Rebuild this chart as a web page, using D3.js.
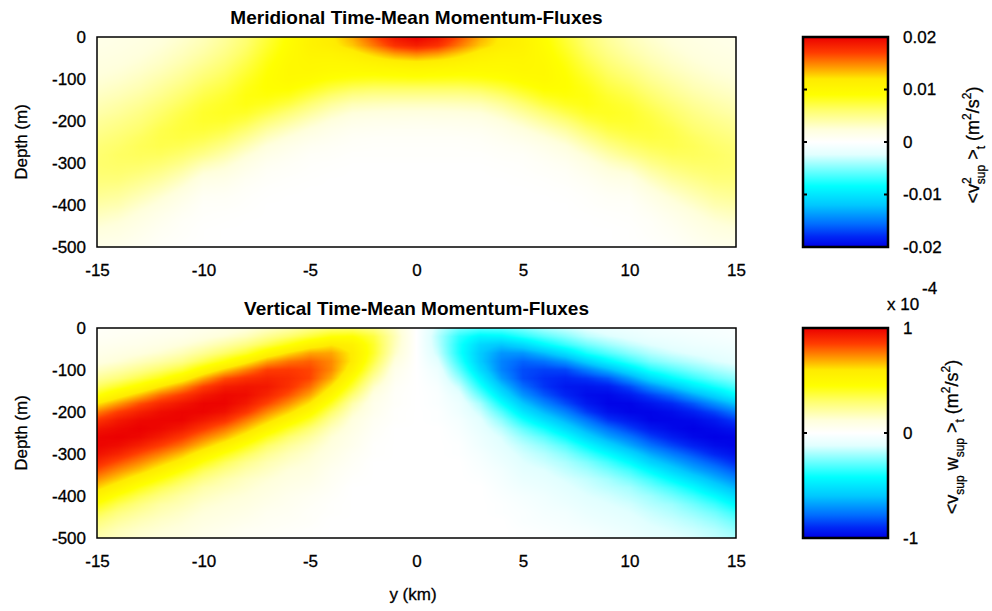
<!DOCTYPE html>
<html>
<head>
<meta charset="utf-8">
<script src="https://cdn.jsdelivr.net/npm/d3@7"></script>
<style>
  body { margin: 0; background: #fff; }
  svg { display: block; }
  text { font-family: "Liberation Sans", Arial, Helvetica, sans-serif; fill: #000; }
  .lbl { stroke: #000; stroke-width: 0.3px; }
</style>
</head>
<body>
<svg id="chart" width="992" height="611"></svg>
<script>
// ---------------- DATA ----------------
const yKm = [-15,-14,-13,-12,-11,-10,-9,-8,-7,-6,-5,-4,-3,-2,-1,0,1,2,3,4,5,6,7,8,9,10,11,12,13,14,15];
const depthM = [0,-20,-40,-60,-80,-100,-120,-140,-160,-180,-200,-220,-240,-260,-280,-300,-320,-340,-360,-380,-400,-420,-440,-460,-480,-500];
const xTickValues = [-15,-10,-5,0,5,10,15];
const depthTickValues = [0,-100,-200,-300,-400,-500];
const meridionalTicks = [-0.02,-0.01,0,0.01,0.02];
const verticalTicks = [-1,0,1];          // in units of 10^-4
const meridionalMax = 0.02;
const verticalMax = 1e-4;

// <v^2>_t : one column per yKm entry, one value per depthM entry, units of 1e-4 m^2/s^2
const meridionalUnit = 1e-4;
const meridionalFlux = [
  [15,16,18,20,22,25,28,32,36,40,45,49,53,57,59,60,59,56,52,47,41,35,29,23,18,14],
  [17,18,20,22,25,28,32,36,41,45,50,54,58,61,63,62,60,56,50,44,38,31,25,20,16,12],
  [19,21,23,26,29,33,37,42,47,52,56,60,64,66,65,62,57,50,43,36,29,23,18,14,11,8],
  [23,25,28,31,35,40,45,50,56,61,65,69,70,69,65,59,51,43,35,27,21,15,11,8,6,4],
  [28,31,34,38,43,48,54,60,65,70,73,74,72,67,60,51,41,32,24,17,12,8,5,4,3,2],
  [35,38,42,47,53,59,65,70,75,78,78,75,69,61,51,38,27,18,12,7,4,3,2,1,1,0],
  [45,48,52,57,62,67,72,77,80,81,78,71,62,51,40,30,22,15,10,6,4,2,1,0,0,0],
  [58,61,65,70,75,80,84,86,85,80,71,60,48,37,27,19,13,8,5,3,2,1,0,0,0,0],
  [75,78,82,86,89,91,91,88,81,70,57,44,33,23,16,10,6,4,2,1,0,0,0,0,0,0],
  [92,94,96,98,99,98,93,84,72,58,45,33,23,15,10,6,4,2,1,0,0,0,0,0,0,0],
  [108,108,105,102,100,95,85,72,58,45,33,23,15,9,5,3,2,1,0,0,0,0,0,0,0,0],
  [118,115,106,101,97,89,75,60,45,33,23,15,10,6,4,2,1,0,0,0,0,0,0,0,0,0],
  [138,130,113,103,96,85,68,51,36,25,16,10,6,4,2,1,0,0,0,0,0,0,0,0,0,0],
  [165,153,128,108,97,83,65,48,34,23,14,9,5,3,2,1,0,0,0,0,0,0,0,0,0,0],
  [190,176,143,114,98,84,65,48,33,22,14,8,5,3,2,1,0,0,0,0,0,0,0,0,0,0],
  [200,185,150,118,100,85,65,48,33,22,13,8,5,3,2,1,0,0,0,0,0,0,0,0,0,0],
  [190,176,143,114,98,84,65,48,33,22,14,8,5,3,2,1,0,0,0,0,0,0,0,0,0,0],
  [165,153,128,108,97,83,65,48,34,23,14,9,5,3,2,1,0,0,0,0,0,0,0,0,0,0],
  [138,130,113,103,96,85,68,51,36,25,16,10,6,4,2,1,0,0,0,0,0,0,0,0,0,0],
  [118,115,106,101,97,89,75,60,45,33,23,15,10,6,4,2,1,0,0,0,0,0,0,0,0,0],
  [108,108,105,102,100,95,85,72,58,45,33,23,15,9,5,3,2,1,0,0,0,0,0,0,0,0],
  [92,94,96,98,99,98,93,84,72,58,45,33,23,15,10,6,4,2,1,0,0,0,0,0,0,0],
  [75,78,82,86,89,91,91,88,81,70,57,44,33,23,16,10,6,4,2,1,0,0,0,0,0,0],
  [58,61,65,70,75,80,84,86,85,80,71,60,48,37,27,19,13,8,5,3,2,1,0,0,0,0],
  [45,48,52,57,62,67,72,77,80,81,78,71,62,51,40,30,22,15,10,6,4,2,1,0,0,0],
  [35,38,42,47,53,59,65,70,75,78,78,75,69,61,51,38,27,18,12,7,4,3,2,1,1,0],
  [28,31,34,38,43,48,54,60,65,70,73,74,72,67,60,51,41,32,24,17,12,8,5,4,3,2],
  [23,25,28,31,35,40,45,50,56,61,65,69,70,69,65,59,51,43,35,27,21,15,11,8,6,4],
  [19,21,23,26,29,33,37,42,47,52,56,60,64,66,65,62,57,50,43,36,29,23,18,14,11,8],
  [17,18,20,22,25,28,32,36,41,45,50,54,58,61,63,62,60,56,50,44,38,31,25,20,16,12],
  [15,16,18,20,22,25,28,32,36,40,45,49,53,57,59,60,59,56,52,47,41,35,29,23,18,14]
];

// <v w>_t : one column per yKm entry, units of 1e-6 m^2/s^2
const verticalUnit = 1e-6;
const verticalFlux = [
  [2,3,5,7,10,16,23,32,43,60,75,87,95,99,99,96,90,82,73,64,54,44,35,28,23,19],
  [3,4,6,9,13,20,28,40,55,71,85,94,98,100,97,91,82,73,64,54,43,34,27,22,18,16],
  [3,5,7,11,17,25,35,49,66,82,92,98,100,98,92,83,74,65,54,43,34,27,22,18,15,13],
  [4,6,9,14,21,31,43,61,78,90,97,99,98,93,85,75,65,55,44,34,27,21,18,15,13,11],
  [5,7,12,18,26,38,54,72,86,95,99,99,94,86,77,66,56,44,34,27,21,18,15,13,11,9],
  [6,10,16,24,35,51,69,85,94,99,99,94,86,76,66,54,43,33,26,20,17,14,12,10,8,6],
  [8,13,21,31,45,64,82,93,98,99,96,88,77,67,55,43,33,26,20,17,14,12,10,8,6,5],
  [11,17,27,39,57,75,88,95,97,94,87,76,66,55,43,33,25,20,16,14,12,10,8,6,4,3],
  [15,24,35,52,70,85,91,94,91,84,74,64,53,41,31,24,19,16,13,11,9,7,5,4,3,2],
  [19,30,44,62,77,86,89,88,82,73,63,52,40,30,23,18,15,12,10,8,6,5,4,3,2,1],
  [25,37,54,70,80,84,84,78,70,60,50,39,29,22,17,14,12,10,8,6,4,3,2,2,1,1],
  [29,44,60,70,74,74,69,60,51,41,31,23,17,13,11,9,7,5,4,3,2,1,1,0,0,0],
  [30,45,55,59,59,54,46,38,29,20,15,11,9,7,6,4,3,2,1,0,0,0,0,0,0,0],
  [26,36,39,39,35,29,22,15,10,7,6,4,3,2,1,1,0,0,0,0,0,0,0,0,0,0],
  [15,18,17,15,11,7,5,3,2,2,1,1,0,0,0,0,0,0,0,0,0,0,0,0,0,0],
  [0,0,0,0,0,0,0,0,0,0,0,0,0,0,0,0,0,0,0,0,0,0,0,0,0,0],
  [-15,-18,-17,-15,-11,-7,-5,-3,-2,-2,-1,-1,0,0,0,0,0,0,0,0,0,0,0,0,0,0],
  [-26,-36,-39,-39,-35,-29,-22,-15,-10,-7,-6,-4,-3,-2,-1,-1,0,0,0,0,0,0,0,0,0,0],
  [-30,-45,-55,-59,-59,-54,-46,-38,-29,-20,-15,-11,-9,-7,-6,-4,-3,-2,-1,0,0,0,0,0,0,0],
  [-29,-44,-60,-70,-74,-74,-69,-60,-51,-41,-31,-23,-17,-13,-11,-9,-7,-5,-4,-3,-2,-1,-1,0,0,0],
  [-25,-37,-54,-70,-80,-84,-84,-78,-70,-60,-50,-39,-29,-22,-17,-14,-12,-10,-8,-6,-4,-3,-2,-2,-1,-1],
  [-19,-30,-44,-62,-77,-86,-89,-88,-82,-73,-63,-52,-40,-30,-23,-18,-15,-12,-10,-8,-6,-5,-4,-3,-2,-1],
  [-15,-24,-35,-52,-70,-85,-91,-94,-91,-84,-74,-64,-53,-41,-31,-24,-19,-16,-13,-11,-9,-7,-5,-4,-3,-2],
  [-11,-17,-27,-39,-57,-75,-88,-95,-97,-94,-87,-76,-66,-55,-43,-33,-25,-20,-16,-14,-12,-10,-8,-6,-4,-3],
  [-8,-13,-21,-31,-45,-64,-82,-93,-98,-99,-96,-88,-77,-67,-55,-43,-33,-26,-20,-17,-14,-12,-10,-8,-6,-5],
  [-6,-10,-16,-24,-35,-51,-69,-85,-94,-99,-99,-94,-86,-76,-66,-54,-43,-33,-26,-20,-17,-14,-12,-10,-8,-6],
  [-5,-7,-12,-18,-26,-38,-54,-72,-86,-95,-99,-99,-94,-86,-77,-66,-56,-44,-34,-27,-21,-18,-15,-13,-11,-9],
  [-4,-6,-9,-14,-21,-31,-43,-61,-78,-90,-97,-99,-98,-93,-85,-75,-65,-55,-44,-34,-27,-21,-18,-15,-13,-11],
  [-3,-5,-7,-11,-17,-25,-35,-49,-66,-82,-92,-98,-100,-98,-92,-83,-74,-65,-54,-43,-34,-27,-22,-18,-15,-13],
  [-3,-4,-6,-9,-13,-20,-28,-40,-55,-71,-85,-94,-98,-100,-97,-91,-82,-73,-64,-54,-43,-34,-27,-22,-18,-16],
  [-2,-3,-5,-7,-10,-16,-23,-32,-43,-60,-75,-87,-95,-99,-99,-96,-90,-82,-73,-64,-54,-44,-35,-28,-23,-19]
];

// ---------------- STYLE ----------------
const colorStops = [-1,-0.9,-0.78,-0.6,-0.42,-0.3,-0.12,0,0.12,0.3,0.45,0.6,0.72,0.85,1];
const colorRange = ["#0000e6","#0028f5","#006eff","#00c8ff","#00ffff","#5affff","#e1ffff","#ffffff",
                    "#ffffdc","#ffff6e","#ffff00","#ffeb00","#ff9600","#ff3c00","#eb0000"];
const color = d3.scaleLinear().domain(colorStops).range(colorRange).interpolate(d3.interpolateRgb).clamp(true);

const svg = d3.select("#chart");
const plotX = [97, 736];
const panels = [
  { top: 37, bottom: 247, title: "Meridional Time-Mean Momentum-Fluxes", grid: meridionalFlux, unit: meridionalUnit, max: meridionalMax, titleY: 24 },
  { top: 328, bottom: 538, title: "Vertical Time-Mean Momentum-Fluxes", grid: verticalFlux, unit: verticalUnit, max: verticalMax, titleY: 315 }
];
const cbX = [803, 888];

const x = d3.scaleLinear().domain([-15, 15]).range(plotX);

const LUT = d3.range(1025).map(i => d3.rgb(color(i / 512 - 1)));

function drawHeat(p, y) {
  const W = plotX[1] - plotX[0], H = p.bottom - p.top;
  const canvas = document.createElement("canvas");
  canvas.width = W; canvas.height = H;
  const ctx = canvas.getContext("2d");
  const img = ctx.createImageData(W, H);
  const ix = d3.scaleLinear().domain([yKm[0], yKm[yKm.length - 1]]).range([0, yKm.length - 1]).clamp(true);
  const iy = d3.scaleLinear().domain([depthM[0], depthM[depthM.length - 1]]).range([0, depthM.length - 1]).clamp(true);
  const nx = yKm.length, ny = depthM.length, g = p.grid;
  for (let py = 0; py < H; py++) {
    const fy = iy(y.invert(p.top + py + 0.5));
    const j0 = Math.min(Math.floor(fy), ny - 2), ty = fy - j0;
    for (let px = 0; px < W; px++) {
      const fx = ix(x.invert(plotX[0] + px + 0.5));
      const i0 = Math.min(Math.floor(fx), nx - 2), tx = fx - i0;
      const v = (g[i0][j0] * (1 - tx) + g[i0 + 1][j0] * tx) * (1 - ty) +
                (g[i0][j0 + 1] * (1 - tx) + g[i0 + 1][j0 + 1] * tx) * ty;
      const t = Math.max(-1, Math.min(1, v * p.unit / p.max));
      const c = LUT[Math.round((t + 1) * 512)];
      const k = (py * W + px) * 4;
      img.data[k] = c.r; img.data[k + 1] = c.g; img.data[k + 2] = c.b; img.data[k + 3] = 255;
    }
  }
  ctx.putImageData(img, 0, 0);
  svg.append("image").attr("x", plotX[0]).attr("y", p.top).attr("width", W).attr("height", H)
    .attr("preserveAspectRatio", "none").attr("href", canvas.toDataURL());
}

const fmt = d => String(d);
function styleAxisText(g) {
  g.select(".domain").remove();
  g.selectAll("text").attr("class", "lbl").style("font-size", "17px").attr("fill", "#000")
    .style("font-family", '"Liberation Sans", Arial, sans-serif');
}

panels.forEach((p, k) => {
  const y = d3.scaleLinear().domain([0, -500]).range([p.top, p.bottom]);
  drawHeat(p, y);
  svg.append("rect").attr("x", plotX[0]).attr("y", p.top).attr("width", plotX[1] - plotX[0]).attr("height", p.bottom - p.top)
    .attr("fill", "none").attr("stroke", "#000").attr("stroke-width", 1.5);
  const gx = svg.append("g").attr("transform", `translate(0,${p.bottom})`)
    .call(d3.axisBottom(x).tickValues(xTickValues).tickSize(0).tickPadding(17).tickFormat(fmt));
  const gy = svg.append("g").attr("transform", `translate(${plotX[0]},0)`)
    .call(d3.axisLeft(y).tickValues(depthTickValues).tickSize(0).tickPadding(11).tickFormat(fmt));
  styleAxisText(gx); styleAxisText(gy);
  svg.append("text").attr("x", (plotX[0] + plotX[1]) / 2).attr("y", p.titleY).attr("text-anchor", "middle")
    .style("font-size", "19px").style("font-weight", "bold").text(p.title);
  svg.append("text").attr("class", "lbl").attr("transform", `translate(27,${(p.top + p.bottom) / 2}) rotate(-90)`).attr("text-anchor", "middle")
    .style("font-size", "17px").text("Depth (m)");

  // colourbar
  const gid = "cbgrad" + k;
  const grad = svg.append("defs").append("linearGradient").attr("id", gid)
    .attr("x1", 0).attr("y1", 0).attr("x2", 0).attr("y2", 1);
  colorStops.slice().reverse().forEach(t => {
    grad.append("stop").attr("offset", (1 - t) / 2).attr("stop-color", color(t));
  });
  svg.append("rect").attr("x", cbX[0]).attr("y", p.top).attr("width", cbX[1] - cbX[0]).attr("height", p.bottom - p.top)
    .attr("fill", `url(#${gid})`);
  const ticks = k === 0 ? meridionalTicks : verticalTicks;
  const dom = k === 0 ? [meridionalMax, -meridionalMax] : [1, -1];
  const cy = d3.scaleLinear().domain(dom).range([p.top, p.bottom]);
  ticks.forEach(t => {
    svg.append("line").attr("x1", cbX[0]).attr("x2", cbX[0] + 4).attr("y1", cy(t)).attr("y2", cy(t)).attr("stroke", "#000").attr("stroke-width", 2);
    svg.append("line").attr("x1", cbX[1] - 4).attr("x2", cbX[1]).attr("y1", cy(t)).attr("y2", cy(t)).attr("stroke", "#000").attr("stroke-width", 2);
  });
  const gc = svg.append("g").attr("transform", `translate(${cbX[1]},0)`)
    .call(d3.axisRight(cy).tickValues(ticks).tickSize(0).tickPadding(15).tickFormat(fmt));
  styleAxisText(gc);
  svg.append("rect").attr("x", cbX[0]).attr("y", p.top).attr("width", cbX[1] - cbX[0]).attr("height", p.bottom - p.top)
    .attr("fill", "none").attr("stroke", "#000").attr("stroke-width", 2.5);
});

// x-axis label
svg.append("text").attr("class", "lbl").attr("x", 413).attr("y", 600).attr("text-anchor", "middle").style("font-size", "17px").text("y (km)");

// exponent label for lower colourbar
svg.append("text").attr("class", "lbl").attr("x", 887).attr("y", 310).style("font-size", "17px").text("x 10");
svg.append("text").attr("class", "lbl").attr("x", 922).attr("y", 294).style("font-size", "17px").text("-4");

// colourbar labels
function addPart(t, str, opts) {
  const s = t.append("tspan").text(str);
  if (opts) {
    if (opts.size) s.style("font-size", opts.size + "px");
    if (opts.dy) s.attr("dy", opts.dy);
    if (opts.dx) s.attr("dx", opts.dx);
  }
  return s;
}
const lab1 = svg.append("text").attr("class", "lbl").attr("transform", "translate(979,145) rotate(-90)").attr("text-anchor", "middle").style("font-size", "18px");
addPart(lab1, "<v");
addPart(lab1, "2", { size: 12, dy: -8 });
addPart(lab1, "sup", { size: 12, dy: 14, dx: -7 });
addPart(lab1, " >", { dy: -6 });
addPart(lab1, "t", { size: 12, dy: 6 });
addPart(lab1, " (m", { dy: -6 });
addPart(lab1, "2", { size: 12, dy: -8 });
addPart(lab1, "/s", { dy: 8 });
addPart(lab1, "2", { size: 12, dy: -8 });
addPart(lab1, ")", { dy: 8 });

const lab2 = svg.append("text").attr("class", "lbl").attr("transform", "translate(958,437) rotate(-90)").attr("text-anchor", "middle").style("font-size", "18px");
addPart(lab2, "<v");
addPart(lab2, "sup", { size: 12, dy: 6 });
addPart(lab2, " w", { dy: -6 });
addPart(lab2, "sup", { size: 12, dy: 6 });
addPart(lab2, " >", { dy: -6 });
addPart(lab2, "t", { size: 12, dy: 6 });
addPart(lab2, " (m", { dy: -6 });
addPart(lab2, "2", { size: 12, dy: -8 });
addPart(lab2, "/s", { dy: 8 });
addPart(lab2, "2", { size: 12, dy: -8 });
addPart(lab2, ")", { dy: 8 });
</script>
</body>
</html>
